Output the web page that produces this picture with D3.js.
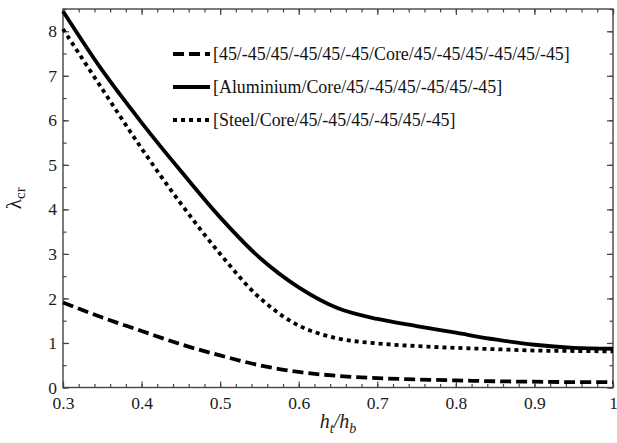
<!DOCTYPE html>
<html>
<head>
<meta charset="utf-8">
<script src="https://cdn.jsdelivr.net/npm/d3@7"></script>
<style>
  body { margin: 0; background: #fff; }
  svg { display: block; }
  svg text { font-family: "Liberation Serif", "DejaVu Serif", "Times New Roman", serif; }
</style>
</head>
<body>
<svg id="chart" width="617" height="443"></svg>
<script>
// thickness ratio h_t/h_b
const hRatio = [0.30, 0.35, 0.40, 0.45, 0.50, 0.55, 0.60, 0.65, 0.70, 0.75, 0.80, 0.85, 0.90, 0.95, 1.00];

// critical buckling load for each layup
const laminateCore = [1.91, 1.57, 1.27, 0.97, 0.72, 0.50, 0.35, 0.26, 0.21, 0.18, 0.16, 0.14, 0.13, 0.12, 0.12];
const aluminiumCore = [8.45, 7.12, 5.95, 4.86, 3.82, 2.92, 2.25, 1.78, 1.54, 1.38, 1.23, 1.08, 0.96, 0.89, 0.87];
const steelCore = [8.05, 6.70, 5.37, 4.13, 3.00, 2.02, 1.39, 1.10, 0.99, 0.93, 0.89, 0.86, 0.83, 0.82, 0.81];

const seriesLabels = [
  "[45/-45/45/-45/45/-45/Core/45/-45/45/-45/45/-45]",
  "[Aluminium/Core/45/-45/45/-45/45/-45]",
  "[Steel/Core/45/-45/45/-45/45/-45]"
];

const xTicks = [0.3, 0.4, 0.5, 0.6, 0.7, 0.8, 0.9, 1];
const yTicks = [0, 1, 2, 3, 4, 5, 6, 7, 8];

const svg = d3.select("#chart");
const plotLeft = 63, plotRight = 613, plotTop = 9, plotBottom = 387.5;

const x = d3.scaleLinear().domain([0.3, 1]).range([plotLeft, plotRight]);
const y = d3.scaleLinear().domain([0, 8.5]).range([plotBottom, plotTop]);

const xMinor = d3.range(0.3, 1.0001, 0.02);
const yMinor = d3.range(0, 8.5001, 0.5);

const axisColor = "#444";
const serif = "'Liberation Serif', 'DejaVu Serif', 'Times New Roman', serif";

// helper to style axis groups
function styleAxis(g) {
  g.select(".domain").remove();
  g.selectAll("line").attr("stroke", axisColor).attr("stroke-width", 1.2);
  g.selectAll("text")
    .attr("fill", "#1a1a1a")
    .attr("font-family", serif)
    .attr("font-size", 17.5);
}

// minor ticks on all four sides (inward)
svg.append("g").attr("transform", `translate(0,${plotBottom})`)
  .call(d3.axisBottom(x).tickValues(xMinor).tickFormat("").tickSize(-3.5)).call(styleAxis);
svg.append("g").attr("transform", `translate(0,${plotTop})`)
  .call(d3.axisTop(x).tickValues(xMinor).tickFormat("").tickSize(-3.5)).call(styleAxis);
svg.append("g").attr("transform", `translate(${plotLeft},0)`)
  .call(d3.axisLeft(y).tickValues(yMinor).tickFormat("").tickSize(-3.5)).call(styleAxis);
svg.append("g").attr("transform", `translate(${plotRight},0)`)
  .call(d3.axisRight(y).tickValues(yMinor).tickFormat("").tickSize(-3.5)).call(styleAxis);

// major ticks with labels
svg.append("g").attr("transform", `translate(0,${plotBottom})`)
  .call(d3.axisBottom(x).tickValues(xTicks).tickFormat(d => d === 1 ? "1" : d3.format(".1f")(d))
    .tickSize(-6).tickPadding(9))
  .call(styleAxis);
svg.append("g").attr("transform", `translate(${plotLeft},0)`)
  .call(d3.axisLeft(y).tickValues(yTicks).tickFormat(d3.format("d")).tickSize(-6).tickPadding(6))
  .call(styleAxis);
svg.append("g").attr("transform", `translate(0,${plotTop})`)
  .call(d3.axisTop(x).tickValues(xTicks).tickFormat("").tickSize(-6)).call(styleAxis);
svg.append("g").attr("transform", `translate(${plotRight},0)`)
  .call(d3.axisRight(y).tickValues(yTicks).tickFormat("").tickSize(-6)).call(styleAxis);

// frame
svg.append("rect")
  .attr("x", plotLeft).attr("y", plotTop)
  .attr("width", plotRight - plotLeft).attr("height", plotBottom - plotTop)
  .attr("fill", "none").attr("stroke", axisColor).attr("stroke-width", 1.4);

// curves
const series = [
  { values: laminateCore, dash: "11,5" },
  { values: aluminiumCore, dash: null },
  { values: steelCore, dash: "4,4" }
];

const line = d3.line()
  .x((d, i) => x(hRatio[i]))
  .y(d => y(d))
  .curve(d3.curveCatmullRom.alpha(0.5));

svg.append("g").selectAll("path")
  .data(series)
  .join("path")
  .attr("d", d => line(d.values))
  .attr("fill", "none")
  .attr("stroke", "#000")
  .attr("stroke-width", 3.8)
  .attr("stroke-dasharray", d => d.dash);

// legend
const legend = svg.append("g").selectAll("g")
  .data(series)
  .join("g")
  .attr("transform", (d, i) => `translate(173,${54 + i * 33})`);

legend.append("line")
  .attr("x1", 0).attr("x2", 37)
  .attr("stroke", "#000")
  .attr("stroke-width", 3.8)
  .attr("stroke-dasharray", d => d.dash);

legend.append("text")
  .attr("x", 40)
  .attr("y", 6)
  .attr("fill", "#111")
  .attr("font-family", serif)
  .attr("font-size", 17.9)
  .text((d, i) => seriesLabels[i]);

// axis titles
const xLabel = svg.append("text")
  .attr("x", (plotLeft + plotRight) / 2)
  .attr("y", 428)
  .attr("text-anchor", "middle")
  .attr("fill", "#1a1a1a")
  .attr("font-family", serif)
  .attr("font-size", 20)
  .attr("font-style", "italic");
xLabel.append("tspan").text("h");
xLabel.append("tspan").attr("dy", 5).attr("font-size", 14).text("t");
xLabel.append("tspan").attr("dy", -5).text("/h");
xLabel.append("tspan").attr("dy", 5).attr("font-size", 14).text("b");

const yLabel = svg.append("text")
  .attr("transform", `translate(21,${(plotTop + plotBottom) / 2}) rotate(-90)`)
  .attr("text-anchor", "middle")
  .attr("fill", "#1a1a1a")
  .attr("font-family", serif)
  .attr("font-size", 21);
yLabel.append("tspan").text("λ");
yLabel.append("tspan").attr("dy", 4).attr("font-size", 15).text("cr");
</script>
</body>
</html>
